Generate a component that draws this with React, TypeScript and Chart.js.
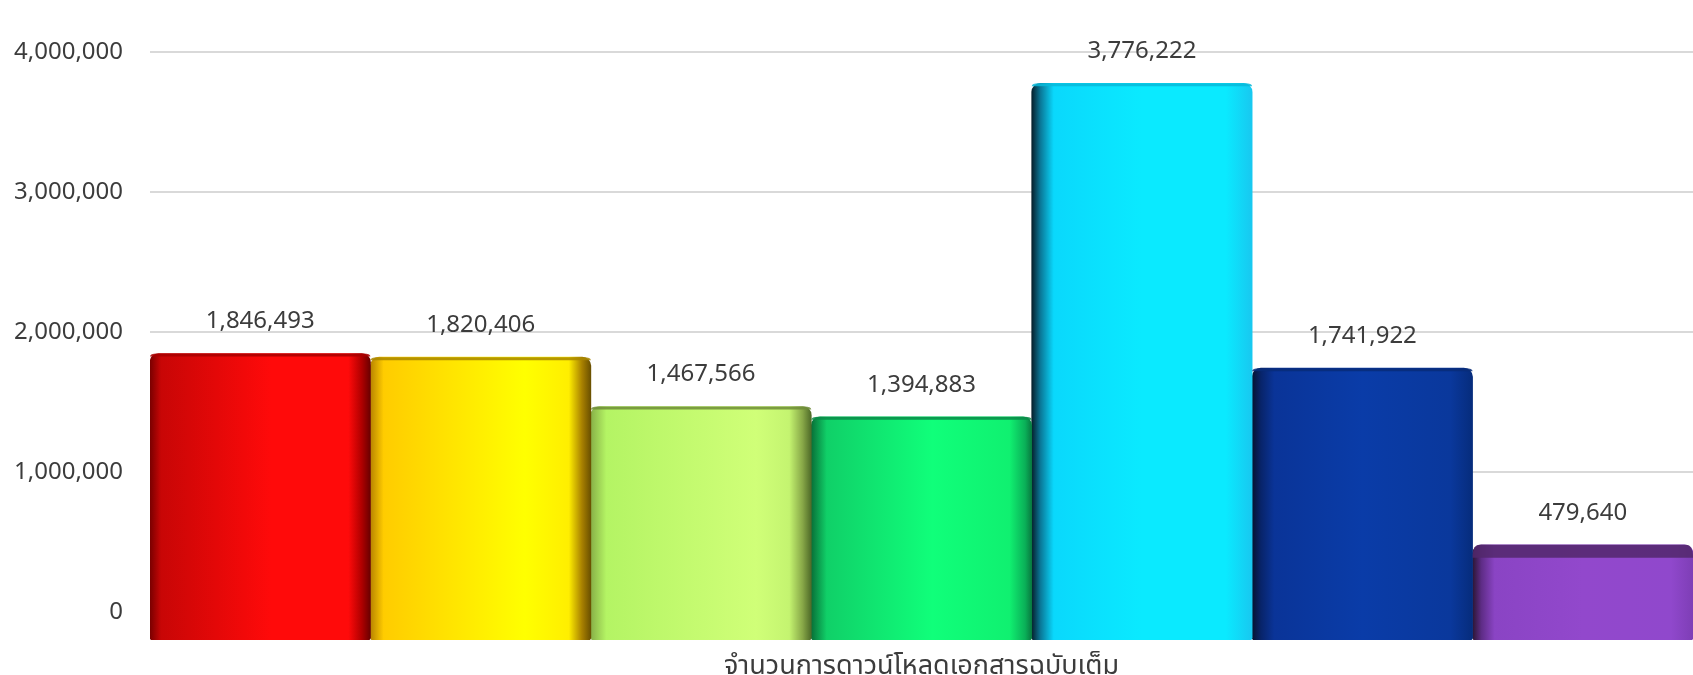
import React, { useEffect, useRef } from "react";
import { Chart, registerables } from "chart.js";

Chart.register(...registerables);

const CATEGORIES = ["จำนวนการดาวน์โหลดเอกสารฉบับเต็ม"];
const SERIES_NAMES = ["s1", "s2", "s3", "s4", "s5", "s6", "s7"];
const VALUES = [1846493, 1820406, 1467566, 1394883, 3776222, 1741922, 479640];
const Y_TICKS = [0, 1000000, 2000000, 3000000, 4000000];
const Y_MIN = -200000;
const Y_MAX = 4000000;

// gradient stops per bar (left edge -> right edge)
const GRADIENTS: [number, string][][] = [
  [[0, "#7a0000"], [0.05, "#c80606"], [0.55, "#ff0a0a"], [0.9, "#ff0a0a"], [0.96, "#b00000"], [1, "#6a0000"]],
  [[0, "#b88400"], [0.06, "#ffcc00"], [0.7, "#ffff00"], [0.9, "#ffee00"], [0.96, "#a88000"], [1, "#6a5000"]],
  [[0, "#88b048"], [0.07, "#b4f464"], [0.75, "#d0ff78"], [0.9, "#c4f470"], [0.96, "#88a848"], [1, "#4e6a28"]],
  [[0, "#087038"], [0.07, "#10d068"], [0.55, "#10ff7a"], [0.9, "#10f070"], [0.97, "#0ab058"], [1, "#087a40"]],
  [[0, "#06202c"], [0.04, "#0a7898"], [0.1, "#0ad8fc"], [0.5, "#0aeaff"], [0.88, "#0aeaff"], [1, "#18c8f0"]],
  [[0, "#061430"], [0.04, "#08246a"], [0.1, "#0a3498"], [0.5, "#0a3ca8"], [0.9, "#0a389c"], [1, "#062c7c"]],
  [[0, "#2c1634"], [0.04, "#5e2c86"], [0.1, "#8a44c4"], [0.5, "#9248cc"], [0.9, "#9048cc"], [1, "#7e3eb6"]],
];
const FLAT_COLORS = ["#ff0a0a", "#ffe600", "#c4ff70", "#10f878", "#0ae8ff", "#0a3ca8", "#9248cc"];
const TOP_COLORS = ["#a80000", "#a88600", "#6e8c38", "#0a8a48", "#08b8d8", "#082c78", "#52286b"];

const FONT = "'Noto Sans', 'Noto Sans Thai', 'Open Sans', sans-serif";
const TEXT_COLOR = "#3c3c3c";

const barStylePlugin = {
  id: "barStyle",
  beforeDatasetsDraw(chart: any) {
    const ctx = chart.ctx;
    chart.data.datasets.forEach((_: any, i: number) => {
      const meta = chart.getDatasetMeta(i);
      meta.data.forEach((el: any) => {
        const half = el.width / 2;
        const g = ctx.createLinearGradient(el.x - half, 0, el.x + half, 0);
        GRADIENTS[i].forEach(([s, c]) => g.addColorStop(s, c));
        el.options.backgroundColor = g;
      });
    });
  },
  afterDatasetsDraw(chart: any) {
    const ctx = chart.ctx;
    ctx.save();
    chart.data.datasets.forEach((ds: any, i: number) => {
      const meta = chart.getDatasetMeta(i);
      meta.data.forEach((el: any, j: number) => {
        const half = el.width / 2;
        // thin top face
        ctx.fillStyle = TOP_COLORS[i];
        const th = i === 6 ? 13 : 3;
        const r = 7;
        ctx.beginPath();
        ctx.moveTo(el.x - half + r, el.y);
        ctx.lineTo(el.x + half - r, el.y);
        ctx.quadraticCurveTo(el.x + half, el.y, el.x + half, el.y + th);
        ctx.lineTo(el.x - half, el.y + th);
        ctx.quadraticCurveTo(el.x - half, el.y, el.x - half + r, el.y);
        ctx.closePath();
        ctx.globalAlpha = 0.85;
        ctx.fill();
        ctx.globalAlpha = 1;
        // value label
        const v = ds.data[j];
        ctx.fillStyle = TEXT_COLOR;
        ctx.font = `24px ${FONT}`;
        ctx.textAlign = "center";
        ctx.textBaseline = "middle";
        ctx.fillText(Number(v).toLocaleString("en-US"), el.x, el.y - 32);
      });
    });
    ctx.restore();
  },
};

export default function App() {
  const ref = useRef<HTMLCanvasElement>(null);
  useEffect(() => {
    document.body.style.margin = "0";
    const canvas = ref.current!;
    const chart = new Chart(canvas, {
      type: "bar",
      data: {
        labels: CATEGORIES,
        datasets: SERIES_NAMES.map((name, i) => ({
          label: name,
          data: [VALUES[i]],
          backgroundColor: FLAT_COLORS[i],
          borderWidth: 0,
          borderRadius: { topLeft: 9, topRight: 9, bottomLeft: 3, bottomRight: 3 },
          borderSkipped: false,
          base: Y_MIN,
          categoryPercentage: 1,
          barPercentage: 1,
        })),
      },
      options: {
        responsive: false,
        animation: false,
        layout: { padding: { top: 52, left: 0, right: 0, bottom: 0 } },
        plugins: {
          legend: { display: false },
          tooltip: { enabled: false },
          title: { display: false },
        },
        scales: {
          x: {
            grid: { display: false },
            border: { display: false },
            ticks: {
              color: TEXT_COLOR,
              font: { family: FONT, size: 27 },
              padding: 2,
            },
            afterFit: (axis: any) => {
              axis.height = 35;
              axis.paddingLeft = 0;
              axis.paddingRight = 0;
            },
          },
          y: {
            min: Y_MIN,
            max: Y_MAX,
            border: { display: false },
            grid: { color: "#d9d9d9", lineWidth: 2, drawTicks: false },
            ticks: {
              color: TEXT_COLOR,
              font: { family: FONT, size: 24 },
              padding: 27,
              callback: (v: any) => Number(v).toLocaleString("en-US"),
            },
            afterBuildTicks: (axis: any) => {
              axis.ticks = Y_TICKS.map((v) => ({ value: v }));
            },
            afterFit: (axis: any) => {
              axis.width = 150;
              axis.paddingTop = 0;
              axis.paddingBottom = 0;
            },
          },
        },
      },
      plugins: [barStylePlugin],
    });
    return () => chart.destroy();
  }, []);
  return (
    <canvas
      ref={ref}
      width={1693}
      height={675}
      style={{ display: "block", position: "fixed", left: 0, top: 0 }}
    />
  );
}
